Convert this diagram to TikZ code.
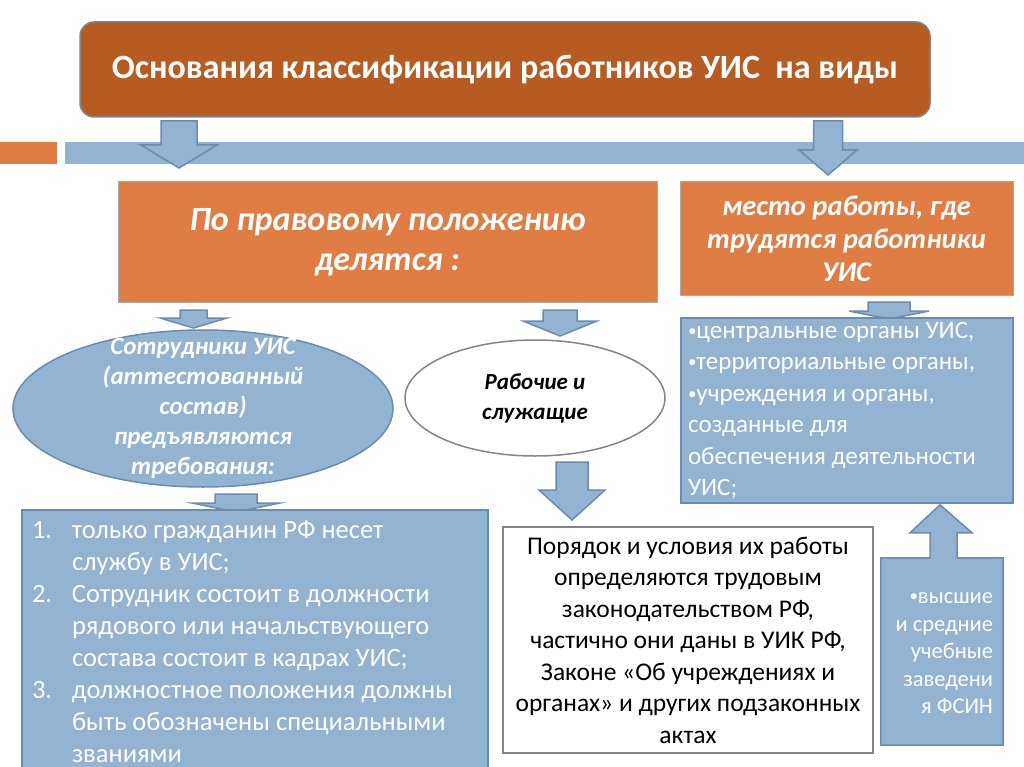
\documentclass[tikz,border=0pt]{standalone}
\usepackage{fontspec}
\setmainfont{Carlito}
\usetikzlibrary{shapes.geometric,calc}
\definecolor{cTitle}{HTML}{B65B22}
\definecolor{cOrange}{HTML}{DF7D45}
\definecolor{cBlue}{HTML}{93B3D2}
\definecolor{cBlueEdge}{HTML}{6B8BAF}
\definecolor{cEdge}{HTML}{858585}
\newcommand{\fsz}[2]{\fontsize{#1}{#2}\selectfont}
\newcommand{\bul}{\raisebox{2pt}{\fsz{17}{17}•}}
% block arrow: x, shaft top, head base, tip, shaft half width, head half width
\newcommand{\fatdown}[6]{%
  \draw[blockar] (#1-#5,#2) -- (#1+#5,#2) -- (#1+#5,#3) -- (#1+#6,#3)
    -- (#1,#4) -- (#1-#6,#3) -- (#1-#5,#3) -- cycle;}
\tikzset{
  box/.style={rectangle, inner sep=0pt, align=center},
  titlebox/.style={box, rounded corners=14pt, draw=cEdge, line width=1.5pt,
                   fill=cTitle, text=white, font=\bfseries\fsz{34}{40}},
  orbox/.style={box, draw=cEdge!70, line width=1pt, fill=cOrange, text=white},
  bluebox/.style={box, draw=cBlueEdge, line width=1.5pt, fill=cBlue, text=white},
  whitebox/.style={box, draw=cEdge, line width=1.5pt, fill=white, text=black},
  ell/.style={ellipse, inner sep=0pt, line width=1.5pt},
  blockar/.style={draw=cBlueEdge, line width=1.5pt, fill=cBlue, line join=miter},
  lbl/.style={inner sep=0pt, align=center, font=\bfseries\itshape},
}

\begin{document}
\begin{tikzpicture}[x=1pt, y=-1pt]
  \useasboundingbox (0,0) rectangle (1024,767);
  % top strip
  \fill[cOrange] (0,142) rectangle (57,164);
  \fill[cBlue] (65,142) rectangle (1024,164);

  \node[titlebox, minimum width=850pt, minimum height=95pt] (title) at (505,69.5)
    {Основания классификации работников УИС\ \ на виды};
  \fatdown{179}{121}{145}{168}{18}{38}
  \fatdown{828}{121}{150}{175}{14.5}{29}

  \node[orbox, minimum width=539pt, minimum height=120pt,
        font=\bfseries\itshape\fsz{34}{40}] (legal) at (387.5,242)
    {По правовому положению\\делятся :};
  \node[orbox, minimum width=333pt, minimum height=113pt,
        font=\bfseries\itshape\fsz{28.5}{33}] (place) at (846.5,238.5)
    {место работы, где\\трудятся работники\\УИС};

  \node[ell, draw=cBlueEdge, fill=cBlue, minimum width=380pt, minimum height=157pt]
    (staff) at (203,408.5) {};
  \node[lbl, text=white, font=\bfseries\itshape\fsz{25}{30}] (stafftxt) at (staff.center)
    {Сотрудники УИС\\(аттестованный\\состав)\\предъявляются\\требования:};
  \node[ell, draw=cEdge, fill=white, minimum width=260pt, minimum height=116pt]
    (workers) at (535,398) {};
  \node[lbl, font=\bfseries\itshape\fsz{23}{30}] (workerstxt) at (workers.center)
    {Рабочие и\\служащие};

  \fatdown{193.5}{310}{318}{328}{13.5}{33.5}
  \fatdown{560}{310}{321}{336}{17}{37}
  \fatdown{889}{302}{311}{319}{21}{40}

  \node[bluebox, minimum width=332pt, minimum height=185pt, text width=318pt,
        align=flush left, font=\fsz{25}{31.5}] (places) at (847,410.5)
    {\bul центральные органы УИС,\\\bul территориальные органы,\\\bul учреждения и органы,\\
     созданные для\\обеспечения деятельности\\УИС;};

  \fatdown{236}{494}{503}{512}{21}{44}
  \fatdown{572}{462}{490}{520}{16}{33}

  \node[bluebox, minimum width=466pt, minimum height=263pt, text width=446pt,
        align=flush left, font=\fsz{26.5}{32}] (reqs) at (255,641.5)
    {\makebox[40pt][l]{1.}только гражданин РФ несет\\
     \hspace*{40pt}службу в УИС;\\
     \makebox[40pt][l]{2.}Сотрудник состоит в должности\\
     \hspace*{40pt}рядового или начальствующего\\
     \hspace*{40pt}состава состоит в кадрах УИС;\\
     \makebox[40pt][l]{3.}должностное положения должны\\
     \hspace*{40pt}быть обозначены специальными\\
     \hspace*{40pt}званиями};

  \node[whitebox, minimum width=370pt, minimum height=226pt, font=\fsz{25.5}{31.5}]
    (labour) at (688,640)
    {Порядок и условия их работы\\определяются трудовым\\законодательством РФ,\\
     частично они даны в УИК РФ,\\Законе «Об учреждениях и\\органах» и других подзаконных\\актах};

  % up arrow callout
  \node[box, minimum width=122pt, minimum height=187pt] (fsinbox) at (942,651.5) {};
  \draw[blockar] (fsinbox.south west) -- (fsinbox.north west)
    -- ($(fsinbox.north)+(-12,0)$) -- ($(fsinbox.north)+(-12,-25)$)
    -- ($(fsinbox.north)+(-32,-25)$) -- ($(fsinbox.north)+(-2,-53)$)
    -- ($(fsinbox.north)+(30,-25)$) -- ($(fsinbox.north)+(15,-25)$)
    -- ($(fsinbox.north)+(15,0)$) -- (fsinbox.north east)
    -- (fsinbox.south east) -- cycle;
  \node[lbl, text=white, font=\fsz{22.5}{27.5}, align=flush right, text width=102pt]
    (fsin) at ($(fsinbox.center)+(0,2)$)
    {\bul высшие\\и средние\\учебные\\заведени\\я ФСИН};
\end{tikzpicture}
\end{document}
